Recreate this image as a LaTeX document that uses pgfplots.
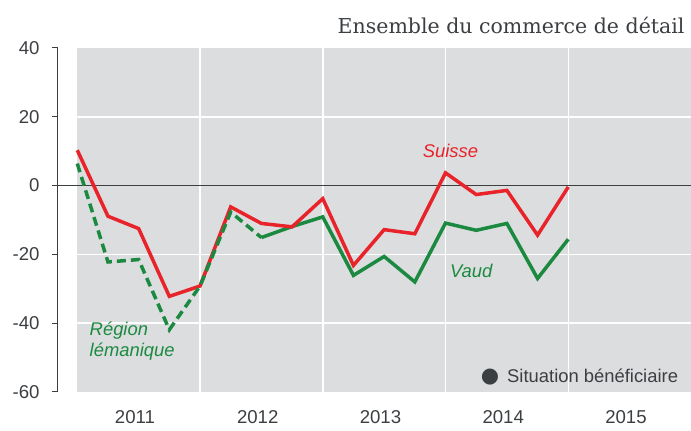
\documentclass[border=0pt]{standalone}
\usepackage{pgfplots}
\pgfplotsset{compat=1.18}
\usepackage{fontspec}
\setmainfont{Liberation Sans}
\newfontfamily\titlefont{DejaVu Serif}
\newfontfamily\symfont{DejaVu Sans}
\definecolor{bg}{HTML}{DCDDDF}
\definecolor{sred}{HTML}{E8232A}
\definecolor{vgreen}{HTML}{1B8A40}
\definecolor{txt}{HTML}{3C3F42}
\begin{document}
\begin{tikzpicture}
\path[use as bounding box] (-58bp,-39bp) rectangle (633bp,392bp);
\begin{axis}[
  scale only axis, width=633bp, height=344bp,
  xmin=-0.157, xmax=5, ymin=-60, ymax=40,
  axis x line*=bottom, axis y line*=left,
  x axis line style={draw=none},
  y axis line style={txt, line width=1bp, -},
  ytick={-60,-40,-20,0,20,40},
  xtick={0.47,1.47,2.47,3.47,4.47},
  xticklabels={2011,2012,2013,2014,2015},
  major x tick style={draw=none},
  major y tick style={txt, line width=1bp},
  tick align=outside, major tick length=6bp,
  ticklabel style={font=\fontsize{18.6bp}{20bp}\selectfont, text=txt},
  /pgf/number format/assume math mode=true,
  yticklabel style={xshift=-9bp},
  xticklabel style={yshift=-9bp},
  clip=false,
]
\fill[bg] (axis cs:0,-60) rectangle (axis cs:5,40);
\draw[white, line width=1.5bp] (axis cs:1,-60) -- (axis cs:1,40);
\draw[white, line width=1.5bp] (axis cs:2,-60) -- (axis cs:2,40);
\draw[white, line width=1.5bp] (axis cs:3,-60) -- (axis cs:3,40);
\draw[white, line width=1.5bp] (axis cs:4,-60) -- (axis cs:4,40);
\draw[white, line width=1.5bp] (axis cs:0,-40) -- (axis cs:5,-40);
\draw[white, line width=1.5bp] (axis cs:0,-20) -- (axis cs:5,-20);
\draw[white, line width=1.5bp] (axis cs:0,20) -- (axis cs:5,20);
\draw[txt, line width=1bp] ([xshift=-6bp]axis cs:-0.157,0) -- (axis cs:5,0);

\addplot[vgreen, line width=3.5bp, no markers] coordinates {
 (1.50,-15.1) (1.75,-11.9) (2.00,-9.1) (2.25,-26.1) (2.50,-20.6) (2.75,-28.0)
 (3.00,-10.9) (3.25,-13.0) (3.50,-11.0) (3.75,-27.0) (4.00,-15.6)};
\addplot[sred, line width=3.5bp, no markers] coordinates {
 (0.00,10.3) (0.25,-8.9) (0.50,-12.5) (0.75,-32.2) (1.00,-29.2) (1.25,-6.2)
 (1.50,-11.0) (1.75,-12.0) (2.00,-3.8) (2.25,-23.2) (2.50,-12.8) (2.75,-14.0)
 (3.00,3.7) (3.25,-2.6) (3.50,-1.4) (3.75,-14.4) (4.00,-0.4)};
\addplot[vgreen, line width=3.5bp, no markers, dash pattern=on 9bp off 5bp] coordinates {
 (0.00,6.4) (0.25,-22.2) (0.50,-21.5) (0.75,-41.9) (1.00,-29.2) (1.25,-7.7) (1.50,-15.1)};

\node[anchor=base east, text=txt, font=\titlefont\fontsize{20.5bp}{24bp}\selectfont]
  at ([xshift=-3bp, yshift=14bp]rel axis cs:1,1) {Ensemble du commerce de détail};
\node[anchor=base, text=sred, font=\itshape\fontsize{18.4bp}{20bp}\selectfont] at (axis cs:3.04,8.2) {Suisse};
\node[anchor=base, text=vgreen, font=\itshape\fontsize{18.4bp}{20bp}\selectfont] at (axis cs:3.21,-26.7) {Vaud};
\node[anchor=base west, text=vgreen, font=\itshape\fontsize{18.4bp}{20bp}\selectfont, inner sep=0pt] at (axis cs:0.10,-43.5) {Région};
\node[anchor=base west, text=vgreen, font=\itshape\fontsize{18.4bp}{20bp}\selectfont, inner sep=0pt] at (axis cs:0.10,-49.8) {lémanique};
\node[anchor=base east, text=txt, font=\fontsize{18.4bp}{20bp}\selectfont, inner sep=0pt] at (axis cs:4.896,-57.1) {{\symfont\fontsize{21bp}{22bp}\selectfont ●}\hspace{8bp}Situation bénéficiaire};
\end{axis}
\end{tikzpicture}
\end{document}
